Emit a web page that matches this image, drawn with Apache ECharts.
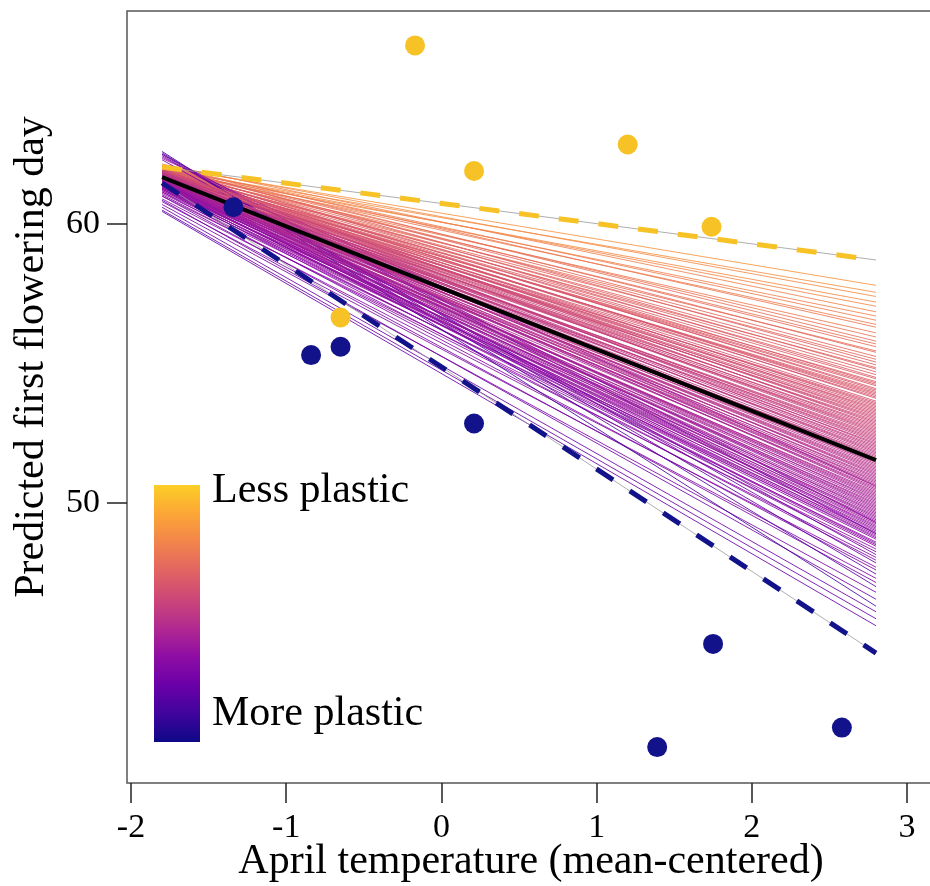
<!DOCTYPE html>
<html>
<head>
<meta charset="utf-8">
<script src="https://cdn.jsdelivr.net/npm/echarts@6/dist/echarts.min.js"></script>
<style>
html,body{margin:0;padding:0;background:#fff;}
#chart{width:930px;height:886px;}
</style>
</head>
<body>
<div id="chart"></div>
<script>
// ---------- data ----------
const xTicks = [-2, -1, 0, 1, 2, 3];
const yTicks = [50, 60];
const lessPlasticPts = [[-0.17, 66.4], [0.21, 61.9], [1.2, 62.85], [1.74, 59.9], [-0.65, 56.65]];
const morePlasticPts = [[-1.34, 60.6], [-0.84, 55.3], [-0.65, 55.6], [0.21, 52.85], [1.75, 44.95], [1.39, 41.25], [2.58, 41.95]];
const fanX = [-1.8, 2.8];
const meanLine = [61.68, 51.54];
const lessLine = [62.04, 58.71];
const moreLine = [61.47, 44.62];
// predicted first flowering day at x = -1.8 (start) and x = 2.8 (end) for each posterior draw
const fanStart = [62.05,61.95,62.1,61.9,62.0,62.15,61.9,62.05,61.95,62.1,61.85,62.0,62.1,61.9,62.0,
  61.8,62.05,61.95,61.85,62.1,61.9,61.75,62.0,61.9,61.8,62.05,61.85,61.7,61.95,61.8,61.9,62.0,61.75,61.85,61.7,61.95,61.8,
  61.65,61.9,61.75,61.6,61.85,61.7,61.8,61.65,61.9,61.55,61.75,61.65,61.8,61.6,61.7,61.85,61.55,61.7,61.6,61.75,61.5,61.65,61.8,
  61.55,61.7,61.6,61.45,61.75,61.6,61.5,61.7,61.55,61.65,61.45,61.6,61.5,61.7,61.4,61.55,61.6,61.45,61.65,61.35,61.5,61.6,61.4,61.55,61.3,
  61.5,61.65,61.35,61.45,61.25,61.55,61.3,61.4,61.2,61.5,61.3,61.15,61.45,61.25,61.35,61.1,61.4,61.2,61.0,61.3,62.3,61.05,61.25,62.45,
  60.9,61.15,62.5,60.8,61.0,62.55,60.7,60.85,62.6,60.6,60.5,60.45,62.35,62.4,62.5,
  61.8,61.7,61.9,61.75,61.85,61.65,61.8,61.95,61.7,61.85,61.6,61.75,61.9,61.7,61.8,61.65,61.75,61.85,61.6,61.7,
  61.8,61.55,61.7,61.65,61.75,61.5,61.6,61.7,61.55,61.65,61.45,61.6,61.5,61.55,61.4,61.5,61.45,61.35,61.5,61.4];
const fanEnd = [57.8,57.55,57.4,57.2,57.05,56.85,56.7,56.55,56.4,56.3,56.1,55.95,55.8,55.7,55.6,
  55.45,55.4,55.25,55.15,55.05,54.95,54.85,54.8,54.7,54.6,54.5,54.45,54.35,54.3,54.2,54.1,54.05,53.95,53.9,53.8,53.75,53.65,
  53.6,53.5,53.45,53.4,53.3,53.25,53.15,53.1,53.0,52.95,52.9,52.8,52.75,52.65,52.6,52.5,52.45,52.35,52.3,52.2,52.15,52.05,52.0,
  51.9,51.85,51.75,51.7,51.6,51.5,51.45,51.35,51.3,51.2,51.1,51.05,50.95,50.9,50.8,50.7,50.65,50.55,50.5,50.4,50.3,50.25,50.15,50.05,50.0,
  49.9,49.8,49.7,49.6,49.55,49.45,49.4,49.3,49.2,49.1,49.05,48.95,48.9,48.8,48.7,48.6,48.5,48.45,48.35,48.25,48.15,48.05,47.95,47.85,
  47.7,47.6,47.45,47.3,47.15,47.0,46.8,46.55,46.3,46.1,45.85,45.6,50.6,49.3,48.9,
  54.25,54.0,53.85,53.55,53.35,53.2,53.05,52.85,52.7,52.55,52.4,52.25,52.1,51.95,51.8,51.65,51.55,51.4,51.25,51.15,
  51.0,50.85,50.75,50.6,50.45,50.35,50.2,50.1,49.95,49.85,49.75,49.65,49.5,49.35,49.25,49.15,49.0,48.85,48.75,48.55];
const legendTexts = ['Less plastic', 'More plastic'];

// ---------- styles ----------
const plasma = ['#0d0887','#41049d','#6a00a8','#8f0da4','#b12a90','#cc4778','#e16462','#f2844b','#fca636','#fcce25'];
const slopeLo = -4.0, slopeHi = -0.3;
const FONT = "'Liberation Serif', 'Times New Roman', serif";
const yellow = '#f6c226', navy = '#12128a';

const fanData = fanStart.map((s, i) => {
  const e = fanEnd[i];
  const slope = (e - s) / (fanX[1] - fanX[0]);
  let t = (slope - slopeLo) / (slopeHi - slopeLo);
  t = Math.max(0, Math.min(1, t));
  return { coords: [[fanX[0], s], [fanX[1], e]], lineStyle: { color: echarts.color.lerp(t, plasma) } };
});

const chart = echarts.init(document.getElementById('chart'), null, { renderer: 'canvas' });
const pair = (ys) => [[fanX[0], ys[0]], [fanX[1], ys[1]]];

chart.setOption({
  animation: false,
  backgroundColor: '#fff',
  grid: { left: 127, top: 11, right: -5, bottom: 103, containLabel: false, outerBoundsMode: 'none',
    show: true, borderColor: '#555', borderWidth: 1.5, backgroundColor: 'transparent' },
  xAxis: {
    type: 'value', min: -2.026, max: 3.18,
    splitLine: { show: false },
    axisLine: { show: false, onZero: false },
    axisTick: { show: true, length: 20, inside: false, customValues: xTicks, lineStyle: { color: '#222', width: 1.5 } },
    axisLabel: { customValues: xTicks, margin: 28, fontSize: 34, fontFamily: FONT, color: '#000' },
    name: 'April temperature (mean-centered)', nameLocation: 'middle', nameGap: 58, nameMoveOverlap: false,
    nameTextStyle: { fontSize: 42, fontFamily: FONT, color: '#000' }
  },
  yAxis: {
    type: 'value', min: 39.964, max: 67.634,
    splitLine: { show: false },
    axisLine: { show: false, onZero: false },
    axisTick: { show: true, length: 20, customValues: yTicks, lineStyle: { color: '#222', width: 1.5 } },
    axisLabel: { customValues: yTicks, margin: 27, fontSize: 34, fontFamily: FONT, color: '#000' }
  },
  series: [
    { type: 'lines', coordinateSystem: 'cartesian2d', data: fanData, silent: true,
      lineStyle: { width: 1, opacity: 0.85 }, z: 1 },
    { type: 'line', data: pair(lessLine), symbol: 'none', silent: true, lineStyle: { color: '#999', width: 0.8 }, z: 2 },
    { type: 'line', data: pair(moreLine), symbol: 'none', silent: true, lineStyle: { color: '#999', width: 0.8 }, z: 2 },
    { type: 'line', data: pair(lessLine), symbol: 'none', silent: true, lineStyle: { color: yellow, width: 5, type: [20, 20] }, z: 3 },
    { type: 'line', data: pair(moreLine), symbol: 'none', silent: true, lineStyle: { color: navy, width: 5, type: [20, 20] }, z: 3 },
    { type: 'line', data: pair(meanLine), symbol: 'none', silent: true, lineStyle: { color: '#000', width: 4 }, z: 4 },
    { type: 'scatter', data: lessPlasticPts, symbolSize: 20, itemStyle: { color: yellow, opacity: 1 }, z: 5 },
    { type: 'scatter', data: morePlasticPts, symbolSize: 20, itemStyle: { color: navy, opacity: 1 }, z: 5 }
  ],
  graphic: [
    { type: 'rect', shape: { x: 154, y: 485, width: 46, height: 257 }, z: 10,
      style: { fill: new echarts.graphic.LinearGradient(0, 0, 0, 1,
        plasma.slice().reverse().map((c, i, a) => ({ offset: i / (a.length - 1), color: c }))) } },
    { type: 'text', x: 212, y: 491, z: 10, style: { text: legendTexts[0], font: '42px ' + FONT, fill: '#000', verticalAlign: 'middle' } },
    { type: 'text', x: 212, y: 714, z: 10, style: { text: legendTexts[1], font: '42px ' + FONT, fill: '#000', verticalAlign: 'middle' } },
    { type: 'text', x: 32, y: 357, rotation: Math.PI / 2, z: 10,
      style: { text: 'Predicted first flowering day', font: '42px ' + FONT, fill: '#000', align: 'center', verticalAlign: 'middle' } }
  ]
});
</script>
</body>
</html>
